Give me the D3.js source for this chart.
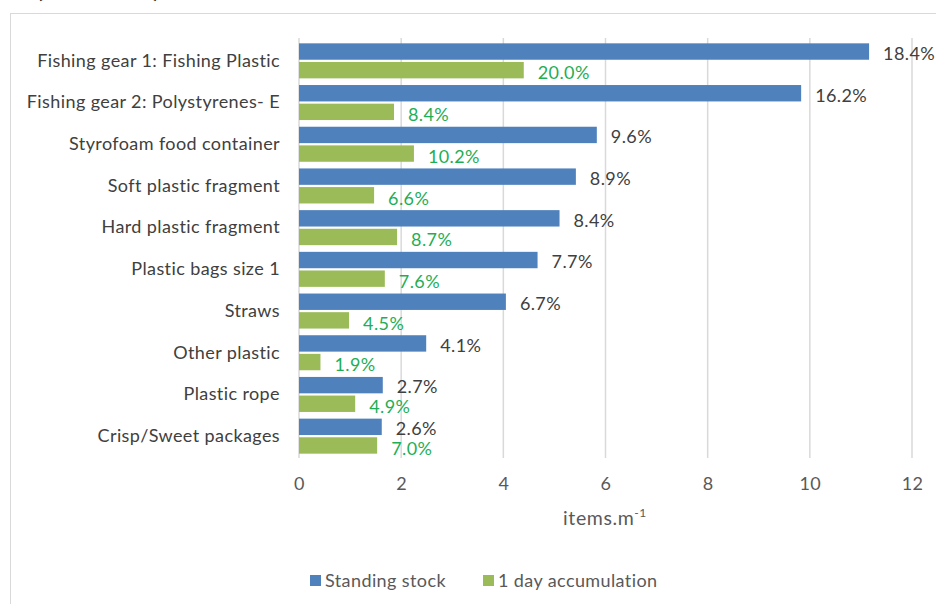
<!DOCTYPE html>
<html>
<head>
<meta charset="utf-8">
<script src="https://cdn.jsdelivr.net/npm/d3@7"></script>
<style>
  body { margin: 0; background: #fff; }
  svg text { font-family: Lato, "Open Sans", sans-serif; }
</style>
</head>
<body>
<svg id="chart" width="936" height="604"></svg>
<script>
// categories, top to bottom
var categories = [
  "Fishing gear 1: Fishing Plastic",
  "Fishing gear 2: Polystyrenes- E",
  "Styrofoam food container",
  "Soft plastic fragment",
  "Hard plastic fragment",
  "Plastic bags size 1",
  "Straws",
  "Other plastic",
  "Plastic rope",
  "Crisp/Sweet packages"
];
var seriesNames = ["Standing stock", "1 day accumulation"];
// items per metre
var standingStock = [11.16, 9.83, 5.83, 5.42, 5.10, 4.67, 4.05, 2.49, 1.64, 1.62];
var dayAccum = [4.40, 1.86, 2.25, 1.47, 1.92, 1.68, 0.98, 0.42, 1.10, 1.53];
// percentage labels
var standingPct = ["18.4%", "16.2%", "9.6%", "8.9%", "8.4%", "7.7%", "6.7%", "4.1%", "2.7%", "2.6%"];
var dayPct = ["20.0%", "8.4%", "10.2%", "6.6%", "8.7%", "7.6%", "4.5%", "1.9%", "4.9%", "7.0%"];
var xTicks = [0, 2, 4, 6, 8, 10, 12];

var colors = ["#4f81bd", "#9bbb59"];
var labelColors = ["#404040", "#1fae55"];
var fs = 18, ls = 0.4;

var svg = d3.select("#chart");

// outer frame of the chart (cut off at right and bottom)
svg.append("rect")
  .attr("x", 10.5).attr("y", 13.5)
  .attr("width", 940).attr("height", 600)
  .attr("fill", "none")
  .attr("stroke", "#d9d9d9");

// heading above the frame, mostly outside the picture
svg.append("text")
  .attr("x", 36).attr("y", -3)
  .attr("font-size", 26)
  .attr("font-weight", "bold")
  .attr("fill", "#111")
  .attr("textLength", 124)
  .attr("lengthAdjust", "spacing")
  .text("(TOTAL)");

var plot = {left: 299, right: 912, top: 40, bottom: 457};

var x = d3.scaleLinear().domain([0, 12]).range([plot.left, plot.right]);
var y = d3.scaleBand().domain(categories).range([plot.top, plot.bottom]).paddingInner(0.16).paddingOuter(0.08);
var ySub = d3.scaleBand().domain([0, 1]).range([0, y.bandwidth()]).paddingInner(0.12);

// gridlines
svg.append("g")
  .selectAll("line")
  .data(xTicks)
  .join("line")
  .attr("x1", function(d){ return x(d); })
  .attr("x2", function(d){ return x(d); })
  .attr("y1", plot.top - 2)
  .attr("y2", plot.bottom + 1)
  .attr("stroke", "#d9d9d9")
  .attr("stroke-width", 1.5);

// x axis labels
var xAxis = d3.axisBottom(x).tickValues(xTicks).tickSize(0).tickPadding(20);
var gx = svg.append("g").attr("transform", "translate(0," + plot.bottom + ")").call(xAxis);
gx.select(".domain").remove();
gx.selectAll("text")
  .attr("font-family", "Lato, sans-serif")
  .attr("font-size", fs)
  .attr("letter-spacing", ls)
  .attr("fill", "#595959");

// category labels
var yAxis = d3.axisLeft(y).tickSize(0).tickPadding(19);
var gy = svg.append("g").attr("transform", "translate(" + plot.left + ",0)").call(yAxis);
gy.select(".domain").remove();
gy.selectAll("text")
  .attr("font-family", "Lato, sans-serif")
  .attr("font-size", fs)
  .attr("letter-spacing", ls)
  .attr("fill", "#404040");

var rows = categories.map(function(c, i) {
  return {cat: c, vals: [standingStock[i], dayAccum[i]], pcts: [standingPct[i], dayPct[i]]};
});

var groups = svg.append("g").selectAll("g")
  .data(rows)
  .join("g")
  .attr("transform", function(d){ return "translate(0," + y(d.cat) + ")"; });

groups.selectAll("rect")
  .data(function(d){ return d.vals.map(function(v, k){ return {k: k, v: v}; }); })
  .join("rect")
  .attr("x", x(0))
  .attr("y", function(d){ return ySub(d.k); })
  .attr("width", function(d){ return x(d.v) - x(0); })
  .attr("height", ySub.bandwidth())
  .attr("fill", function(d){ return colors[d.k]; });

groups.selectAll("text.val")
  .data(function(d){ return d.vals.map(function(v, k){ return {k: k, v: v, p: d.pcts[k]}; }); })
  .join("text")
  .attr("class", "val")
  .attr("x", function(d){ return x(d.v) + 14; })
  .attr("y", function(d){ return ySub(d.k) + ySub.bandwidth() / 2 + (d.k == 0 ? 2 : 3); })
  .attr("dy", "0.35em")
  .attr("font-size", fs)
  .attr("letter-spacing", ls)
  .attr("fill", function(d){ return labelColors[d.k]; })
  .text(function(d){ return d.p; });

// axis title
var title = svg.append("text")
  .attr("x", 605)
  .attr("y", 525)
  .attr("text-anchor", "middle")
  .attr("font-size", 19.5)
  .attr("letter-spacing", 0.6)
  .attr("fill", "#595959");
title.append("tspan").text("items.m");
title.append("tspan").attr("dy", -8).attr("font-size", 12).text("-1");

// legend
var legendX = [310, 483];
var legend = svg.append("g").selectAll("g")
  .data(seriesNames)
  .join("g")
  .attr("transform", function(d, i){ return "translate(" + legendX[i] + ",581)"; });
legend.append("rect")
  .attr("x", 0).attr("y", -6)
  .attr("width", 11).attr("height", 11)
  .attr("fill", function(d, i){ return colors[i]; });
legend.append("text")
  .attr("x", 15)
  .attr("dy", "0.35em")
  .attr("font-size", fs)
  .attr("letter-spacing", ls)
  .attr("fill", "#595959")
  .text(function(d){ return d; });
</script>
</body>
</html>
